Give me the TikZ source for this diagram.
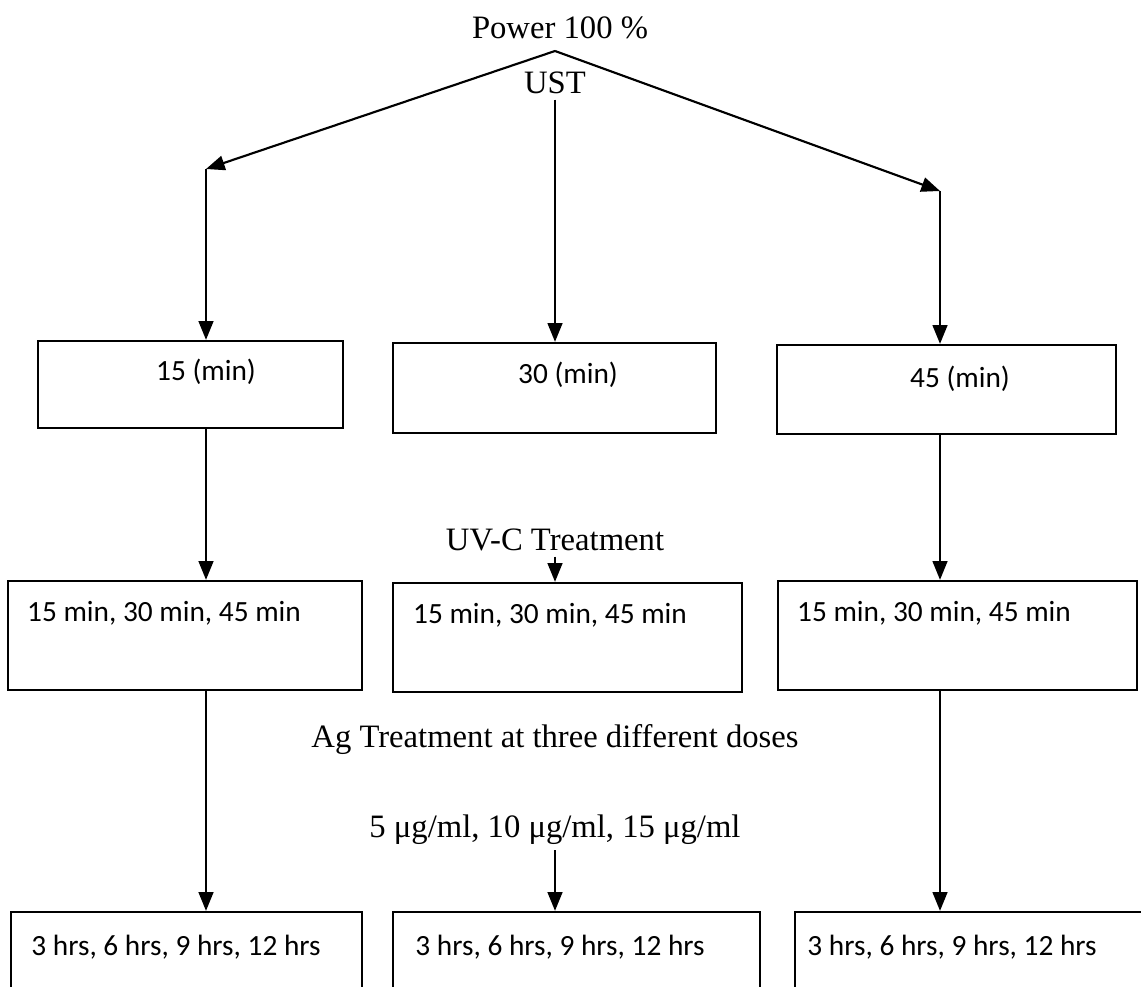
\documentclass[tikz,border=0pt]{standalone}
\usepackage{fontspec}
\setmainfont{Liberation Serif}
\newfontfamily\calibrifont{Carlito}
\usetikzlibrary{arrows.meta,fit}
\begin{document}
\begin{tikzpicture}[x=0.75pt,y=-0.75pt,
  box/.style={draw, line width=1.7pt, inner sep=0pt},
  boxtext/.style={font=\calibrifont\fontsize{22}{26}\selectfont, inner sep=0pt},
  freetext/.style={font=\fontsize{24.5}{28}\selectfont, inner sep=0pt},
  arr/.style={line width=1.6pt, -{Triangle[length=14pt,width=11pt]}}]
\useasboundingbox (0,0) rectangle (1141,987);
\fill[white] (0,0) rectangle (1141,987);

% free texts
\node[freetext] (power) at (560,28) {Power 100 \%};
\node[freetext] (ust) at (555,83) {UST};
\node[freetext] (uvc) at (555,540) {UV-C Treatment};
\node[freetext] (ag) at (555,740) {Ag Treatment at three different doses};
\node[freetext] (dose) at (555,830) {5 μg/ml, 10 μg/ml, 15 μg/ml};

\coordinate (apex) at (555,51);
\coordinate (lt) at (206,169);
\coordinate (rt) at (940,191);

% boxes
\begin{scope}
\clip (0,0) rectangle (1141,987);
\node[box, fit={(38,341) (343,428)}] (b1) {};
\node[box, fit={(393,343) (716,433)}] (b2) {};
\node[box, fit={(777,345) (1116,434)}] (b3) {};
\node[box, fit={(8,581) (362,690)}] (b4) {};
\node[box, fit={(393,583) (742,692)}] (b5) {};
\node[box, fit={(778,581) (1137,690)}] (b6) {};
\node[box, fit={(11,912) (362,1010)}] (b7) {};
\node[box, fit={(393,912) (760,1010)}] (b8) {};
\node[box, fit={(795,912) (1170,1010)}] (b9) {};
\end{scope}

% box texts
\node[boxtext] (t1) at (206,372) {15 (min)};
\node[boxtext] (t2) at (568,375) {30 (min)};
\node[boxtext] (t3) at (960,379) {45 (min)};
\node[boxtext] (t4) at (164,613) {15 min, 30 min, 45 min};
\node[boxtext] (t5) at (550,615) {15 min, 30 min, 45 min};
\node[boxtext] (t6) at (934,613) {15 min, 30 min, 45 min};
\node[boxtext] (t7) at (176,947) {3 hrs, 6 hrs, 9 hrs, 12 hrs};
\node[boxtext] (t8) at (560,947) {3 hrs, 6 hrs, 9 hrs, 12 hrs};
\node[boxtext] (t9) at (952,947) {3 hrs, 6 hrs, 9 hrs, 12 hrs};

% connectors
\draw[arr] (apex) -- (lt);
\draw[arr] (apex) -- (rt);
\draw[arr] (lt) -- (lt |- b1.north);
\draw[arr] (rt) -- (rt |- b3.north);
\draw[arr, shorten <=4pt] (ust.south) -- (ust.south |- b2.north);
\draw[arr] (lt |- b1.south) -- (lt |- b4.north);
\draw[arr, shorten <=4pt] (uvc.south) -- (uvc.south |- b5.north);
\draw[arr] (rt |- b3.south) -- (rt |- b6.north);
\draw[arr] (lt |- b4.south) -- (lt |- b7.north);
\draw[arr, shorten <=4pt] (dose.south) -- (dose.south |- b8.north);
\draw[arr] (rt |- b6.south) -- (rt |- b9.north);
\end{tikzpicture}
\end{document}
